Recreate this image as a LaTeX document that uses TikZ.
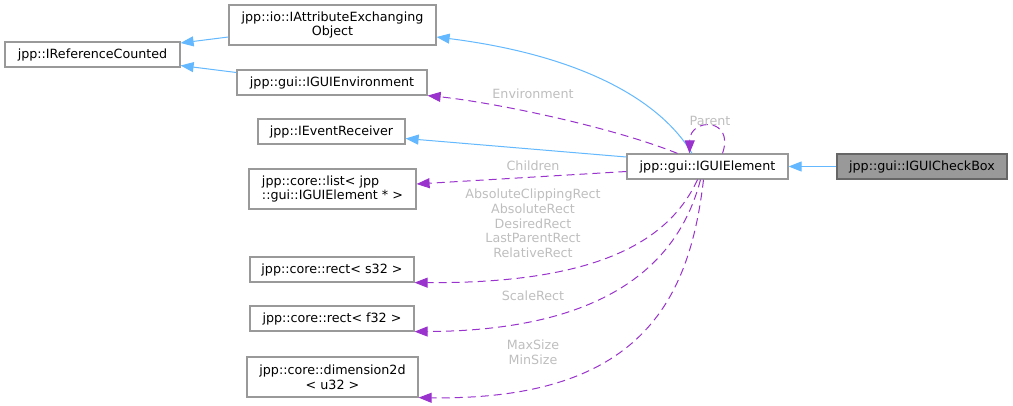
\documentclass[tikz,border=0pt]{standalone}
\usepackage{fontspec}
\setmainfont{DejaVu Sans}
\usetikzlibrary{arrows.meta}
\definecolor{boxgray}{HTML}{999999}
\definecolor{curgray}{HTML}{666666}
\definecolor{inhblue}{HTML}{63B8FF}
\definecolor{usepurple}{HTML}{9A32CD}
\definecolor{lblgray}{HTML}{BEBEBE}

\begin{document}
\begin{tikzpicture}[x=1pt,y=-1pt]
  \tikzset{cls/.style = {shape=rectangle,draw=boxgray,fill=white,line width=1.2pt,inner sep=0pt,align=center,font=\fontsize{12.7}{14.7}\selectfont}}
  \tikzset{curcls/.style = {cls,draw=curgray,fill=boxgray}}
  \tikzset{lbl/.style = {text=lblgray,inner sep=0pt,align=center,font=\fontsize{12.7}{14.7}\selectfont}}
  \tikzset{inh/.style = {draw=inhblue,line width=1pt,-{Triangle[length=13pt,width=10pt,fill=inhblue]}}}
  \tikzset{use/.style = {draw=usepurple,line width=1pt,dash pattern=on 8pt off 5pt,-{Triangle[length=13pt,width=10pt,fill=usepurple]}}}

  \useasboundingbox (0,0) rectangle (1013,405);

	\node[cls,minimum width=175pt,minimum height=25pt] (irc) at (92.5,54.5) {jpp::IReferenceCounted};
	\node[cls,minimum width=207pt,minimum height=40pt] (aeo) at (332.5,25) {jpp::io::IAttributeExchanging\\Object};
	\node[cls,minimum width=190pt,minimum height=25pt] (env) at (332,82.5) {jpp::gui::IGUIEnvironment};
	\node[cls,minimum width=147pt,minimum height=25pt] (evr) at (331.5,131.5) {jpp::IEventReceiver};
	\node[cls,minimum width=167pt,minimum height=40pt,align=left] (lst) at (332.5,189) {jpp::core::list< jpp\\::gui::IGUIElement * >};
	\node[cls,minimum width=164pt,minimum height=25pt] (rs32) at (332,269.5) {jpp::core::rect< s32 >};
	\node[cls,minimum width=164pt,minimum height=25pt] (rf32) at (332,318.5) {jpp::core::rect< f32 >};
	\node[cls,minimum width=171pt,minimum height=40pt] (dim) at (332.5,377) {jpp::core::dimension2d\\< u32 >};
	\node[cls,minimum width=161pt,minimum height=25pt] (elem) at (707.5,166.5) {jpp::gui::IGUIElement};
	\node[curcls,minimum width=170pt,minimum height=25pt] (chk) at (922,166.5) {jpp::gui::IGUICheckBox};

	% inheritance
	\draw[inh] ([yshift=-12pt]aeo.west) -- ([yshift=11.5pt]irc.east);
	\draw[inh] ([yshift=10pt]env.west) -- ([yshift=-11pt]irc.east);
	\draw[inh] ([xshift=-15.5pt]elem.north) .. controls +(-32,-54) and +(143,18) .. ([yshift=-12pt]aeo.east);
	\draw[inh] ([yshift=9.5pt]elem.west) -- ([yshift=-7pt]evr.east);
	\draw[inh] (chk) -- (elem);

	% usage
	\draw[use] ([xshift=-30pt]elem.north) .. controls +(-70,-28) and +(60,6) .. (env.south east);
	\draw[use] ([xshift=15pt]elem.north) .. controls +(12.5,-36) and +(0.5,-36) .. ([xshift=-18pt]elem.north);
	\draw[use] ([yshift=-5pt]elem.west) -- ([yshift=5pt]lst.east);
	\draw[use] ([xshift=-10pt]elem.south) .. controls +(-28,61) and +(184,1) .. (rs32.south east);
	\draw[use] ([xshift=-7pt]elem.south) .. controls +(-21,81) and +(196,-1) .. (rf32.south east);
	\draw[use] ([xshift=-4pt]elem.south) .. controls +(-14,121) and +(222,3) .. (dim.south east);

	\node[lbl] (lenv) at (533,94) {Environment};
	\node[lbl] (lpar) at (710,121) {Parent};
	\node[lbl] (lchi) at (533,166) {Children};
	\node[lbl] (lrect) at (533,223.5) {AbsoluteClippingRect\\AbsoluteRect\\DesiredRect\\LastParentRect\\RelativeRect};
	\node[lbl] (lscl) at (533,296) {ScaleRect};
	\node[lbl] (lsize) at (533,352) {MaxSize\\MinSize};

\end{tikzpicture}
\end{document}
